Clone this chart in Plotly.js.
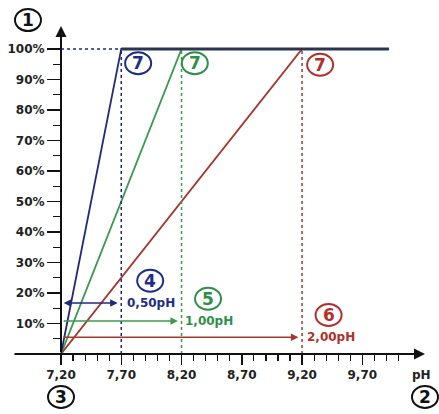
<!DOCTYPE html>
<html>
<head>
<meta charset="utf-8">
<script src="https://cdn.plot.ly/plotly-3.0.1.min.js"></script>
<style>html,body{margin:0;padding:0;background:#fff;}#chart{width:439px;height:414px;}</style>
</head>
<body>
<div id="chart"></div>
<script>
// ---- data ----
const blueX  = [7.20, 7.70, 9.92];
const blueY  = [0, 100, 100];
const greenX = [7.20, 8.20, 9.92];
const greenY = [0, 100, 100];
const redX   = [7.20, 9.20, 9.92];
const redY   = [0, 100, 100];

const xTickVals = [7.20, 7.70, 8.20, 8.70, 9.20, 9.70];
const xTickText = ["7,20", "7,70", "8,20", "8,70", "9,20", "9,70"];
const xMinorVals = [7.3,7.4,7.5,7.6,7.8,7.9,8.0,8.1,8.3,8.4,8.5,8.6,8.8,8.9,9.0,9.1,9.3,9.4,9.5,9.6,9.8,9.9,10.0];
const yTickVals = [10,20,30,40,50,60,70,80,90,100];
const yTickText = ["10%","20%","30%","40%","50%","60%","70%","80%","90%","100%"];
const yMinorVals = [5,15,25,35,45,55,65,75,85,95];

const spanLabels = ["0,50pH", "1,00pH", "2,00pH"];
const spanEnds   = [7.70, 8.20, 9.20];
const spanLevels = [16.7, 10.8, 5.5];
const spanNums   = ["4", "5", "6"];

const BLUE = "#1f2a7c", GREEN = "#3a9a50", RED = "#a8362f";
const BLUE_T = "#1f2d86", GREEN_T = "#2f8f48", RED_T = "#b0302c";
const FONT = "DejaVu Sans";

const traces = [
  {x: redX, y: redY, mode: "lines", line: {color: RED, width: 1.8}},
  {x: greenX, y: greenY, mode: "lines", line: {color: GREEN, width: 1.8}},
  {x: blueX, y: blueY, mode: "lines", line: {color: BLUE, width: 1.8}},
];
// thicker combined top line
traces.push({x: [blueX[1], blueX[2]], y: [blueY[1], blueY[2]], mode: "lines", line: {color: "#2b3450", width: 3}});

const shapes = [];
const annotations = [];

// dotted guides
[[spanEnds[0], BLUE], [spanEnds[1], GREEN], [spanEnds[2], RED]].forEach(([xv, c]) => {
  shapes.push({type: "line", xref: "x", yref: "y", x0: xv, x1: xv, y0: 0, y1: 100, line: {color: c, width: 1.5, dash: "dot"}});
});
shapes.push({type: "line", xref: "x", yref: "y", x0: 7.20, x1: 7.70, y0: 100, y1: 100, line: {color: BLUE, width: 1.5, dash: "dot"}});

function circleAt(xref, yref, xv, yv, color, txt) {
  shapes.push({type: "circle", xref: xref, yref: yref, xsizemode: "pixel", ysizemode: "pixel",
    xanchor: xv, yanchor: yv, x0: -13, x1: 13, y0: -11, y1: 11, line: {color: color, width: 2}});
  annotations.push({xref: xref, yref: yref, x: xv, y: yv, text: "<b>" + txt + "</b>", showarrow: false,
    font: {family: FONT, size: 17, color: color}, xanchor: "center", yanchor: "middle"});
}

// circled 7s at top
circleAt("x", "y", 7.84, 95.3, BLUE_T, "7");
circleAt("x", "y", 8.31, 95.3, GREEN_T, "7");
circleAt("x", "y", 9.35, 94.8, RED_T, "7");

// span arrows & labels
const colsL = [BLUE, GREEN, RED], colsT = [BLUE_T, GREEN_T, RED_T];
const labelX = [7.95, 8.43, 9.44];
const numX = [7.94, 8.42, 9.42];
for (let i = 0; i < 3; i++) {
  annotations.push({xref: "x", yref: "y", x: spanEnds[i] - 0.03, y: spanLevels[i], axref: "x", ayref: "y",
    ax: 7.21, ay: spanLevels[i], text: "", showarrow: true, arrowhead: 2, arrowsize: 1, arrowwidth: 1.5,
    arrowcolor: colsL[i], arrowside: i === 0 ? "end+start" : "end"});
  annotations.push({xref: "x", yref: "y", x: labelX[i], y: spanLevels[i], text: "<b>" + spanLabels[i] + "</b>",
    showarrow: false, font: {family: FONT, size: 12, color: colsT[i]}, xanchor: "center", yanchor: "middle"});
  circleAt("x", "y", numX[i], spanLevels[i] + 7.3, colsT[i], spanNums[i]);
}

// axis circled labels
circleAt("paper", "paper", -0.0907, 1.018, "#111", "1");
circleAt("paper", "paper", 1.0, -0.131, "#111", "2");
circleAt("paper", "paper", 0.0, -0.131, "#111", "3");
annotations.push({xref: "paper", yref: "paper", x: 0.99, y: -0.064, text: "<b>pH</b>", showarrow: false,
  font: {family: FONT, size: 12, color: "#222"}, xanchor: "center", yanchor: "middle"});

// axes with arrows
annotations.push({xref: "paper", yref: "paper", x: 1, y: 0, ax: -412, ay: 0, text: "", showarrow: true,
  arrowhead: 2, arrowsize: 1.1, arrowwidth: 2, arrowcolor: "#111"});
annotations.push({xref: "paper", yref: "paper", x: 0, y: 1, ax: 0, ay: 328, text: "", showarrow: true,
  arrowhead: 2, arrowsize: 1.1, arrowwidth: 2, arrowcolor: "#111"});

const layout = {
  width: 439, height: 414,
  margin: {l: 61, r: 14, t: 26, b: 60},
  paper_bgcolor: "#fff", plot_bgcolor: "#fff",
  showlegend: false,
  xaxis: {range: [7.20, 10.22], showgrid: false, zeroline: false, showline: false,
    tickmode: "array", tickvals: xTickVals, ticktext: xTickText, ticks: "outside", ticklen: 10, tickwidth: 1.5, tickcolor: "#111",
    tickfont: {family: FONT, size: 12, color: "#222", weight: "bold"},
    minor: {tickmode: "array", tickvals: xMinorVals, ticks: "outside", ticklen: 6, tickwidth: 1.2, tickcolor: "#111", showgrid: false}},
  yaxis: {range: [0, 107.5], showgrid: false, zeroline: false, showline: false,
    tickmode: "array", tickvals: yTickVals, ticktext: yTickText, ticks: "outside", ticklen: 13, tickwidth: 1.5, tickcolor: "#111",
    tickfont: {family: FONT, size: 12, color: "#222", weight: "bold"},
    minor: {tickmode: "array", tickvals: yMinorVals, ticks: "outside", ticklen: 7, tickwidth: 1.2, tickcolor: "#111", showgrid: false}},
  shapes: shapes,
  annotations: annotations
};

Plotly.newPlot("chart", traces, layout, {staticPlot: true, displayModeBar: false});
</script>
</body>
</html>
